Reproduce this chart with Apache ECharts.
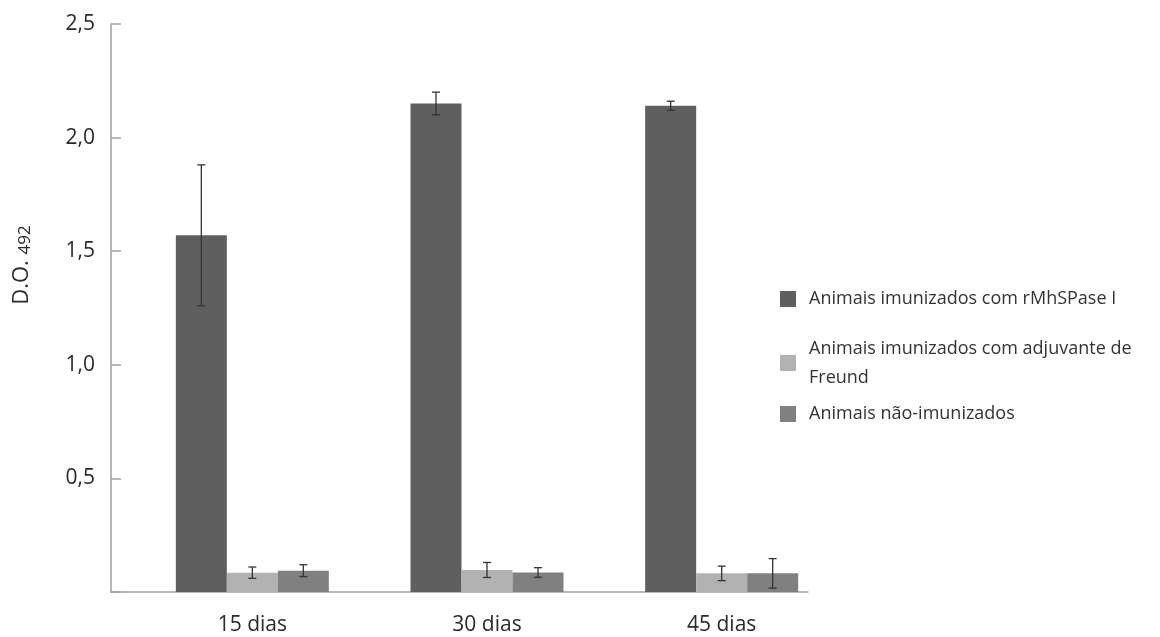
<!DOCTYPE html>
<html>
<head>
<meta charset="utf-8">
<script src="https://cdn.jsdelivr.net/npm/echarts@6/dist/echarts.min.js"></script>
<style>
  html, body { margin: 0; padding: 0; background: #fff; }
  #chart { width: 1160px; height: 637px; }
</style>
</head>
<body>
<div id="chart"></div>
<script>
const categories = ['15 dias', '30 dias', '45 dias']
const seriesNames = [
  'Animais imunizados com rMhSPase I',
  'Animais imunizados com adjuvante de\nFreund',
  'Animais não-imunizados'
]
const rmhValues = [1.57, 2.15, 2.14]
const rmhErrors = [0.31, 0.05, 0.02]
const freundValues = [0.085, 0.097, 0.082]
const freundErrors = [0.025, 0.033, 0.032]
const naoValues = [0.094, 0.086, 0.082]
const naoErrors = [0.026, 0.021, 0.065]
const yTicks = [0, 0.5, 1.0, 1.5, 2.0, 2.5]

const colors = ['#5f5f5f', '#b2b2b2', '#808080']
const BAR_W = 51
const FONT = '"Open Sans", "DejaVu Sans", sans-serif'
const TEXT = '#2a2a2a'

function errorSeries(values, errors, k) {
  return {
    type: 'custom',
    xAxisIndex: 0,
    yAxisIndex: 0,
    z: 5,
    silent: true,
    data: values.map((v, i) => [i, v, errors[i]]),
    renderItem(params, api) {
      const i = api.value(0), m = api.value(1), e = api.value(2)
      const hi = api.coord([i, m + e])
      const lo = api.coord([i, m - e])
      const x = hi[0] + (k - 1) * BAR_W
      const cap = 4
      const style = { stroke: '#333', lineWidth: 1.3 }
      return {
        type: 'group',
        children: [
          { type: 'line', shape: { x1: x, y1: hi[1], x2: x, y2: lo[1] }, style },
          { type: 'line', shape: { x1: x - cap, y1: hi[1], x2: x + cap, y2: hi[1] }, style },
          { type: 'line', shape: { x1: x - cap, y1: lo[1], x2: x + cap, y2: lo[1] }, style }
        ]
      }
    }
  }
}

function legendAt(idx, top, lineHeight) {
  return {
    orient: 'vertical',
    left: 780,
    top,
    padding: 0,
    data: [seriesNames[idx]],
    itemWidth: 16,
    itemHeight: 16,
    itemGap: 0,
    icon: 'rect',
    selectedMode: false,
    textStyle: { fontFamily: FONT, fontSize: 18, color: '#333', lineHeight, padding: [0, 0, 0, 8] }
  }
}

const chart = echarts.init(document.getElementById('chart'))
chart.setOption({
  animation: false,
  backgroundColor: '#fff',
  color: colors,
  legend: [legendAt(0, 287, 24), legendAt(1, 334, 29), legendAt(2, 402, 24)],
  grid: [
    { left: 135, right: 321, top: 24, bottom: 45 },
    { left: 111, right: 352, top: 24, bottom: 45 }
  ],
  xAxis: [
    {
      type: 'category',
      gridIndex: 0,
      data: categories,
      axisLine: { show: false },
      axisTick: { show: false },
      axisLabel: { fontFamily: FONT, fontSize: 21, color: TEXT, margin: 23 }
    },
    {
      type: 'value',
      gridIndex: 1,
      min: 0,
      max: 1,
      axisLine: { show: true, lineStyle: { color: '#a0a0a0', width: 1.5 } },
      axisTick: { show: false },
      axisLabel: { show: false },
      splitLine: { show: false }
    }
  ],
  yAxis: [
    {
      type: 'value',
      gridIndex: 0,
      min: 0,
      max: 2.5,
      show: false
    },
    {
      type: 'value',
      gridIndex: 1,
      min: 0,
      max: 2.5,
      interval: 0.5,
      axisLine: { show: true, lineStyle: { color: '#a0a0a0', width: 1.5 } },
      axisTick: { show: true, inside: true, length: 10, lineStyle: { color: '#a0a0a0', width: 1.5 } },
      splitLine: { show: false },
      axisLabel: {
        fontFamily: FONT,
        fontSize: 21,
        color: TEXT,
        margin: 16,
        formatter: v => (v === 0 ? '' : v.toFixed(1).replace('.', ','))
      }
    }
  ],
  graphic: [
    {
      type: 'text',
      x: 22,
      y: 265,
      rotation: Math.PI / 2,
      style: {
        text: 'D.O. {s|492}',
        fontFamily: FONT,
        fontSize: 22,
        fill: TEXT,
        align: 'center',
        verticalAlign: 'middle',
        rich: { s: { fontSize: 17, fontFamily: FONT, fill: TEXT, padding: [7, 0, 0, 0] } }
      }
    }
  ],
  series: [
    { name: seriesNames[0], type: 'bar', xAxisIndex: 0, yAxisIndex: 0, data: rmhValues, barWidth: BAR_W, barGap: '0%', itemStyle: { color: colors[0] } },
    { name: seriesNames[1], type: 'bar', xAxisIndex: 0, yAxisIndex: 0, data: freundValues, barWidth: BAR_W, barGap: '0%', itemStyle: { color: colors[1] } },
    { name: seriesNames[2], type: 'bar', xAxisIndex: 0, yAxisIndex: 0, data: naoValues, barWidth: BAR_W, barGap: '0%', itemStyle: { color: colors[2] } },
    errorSeries(rmhValues, rmhErrors, 0),
    errorSeries(freundValues, freundErrors, 1),
    errorSeries(naoValues, naoErrors, 2)
  ]
})
window.addEventListener('resize', () => chart.resize())
</script>
</body>
</html>
